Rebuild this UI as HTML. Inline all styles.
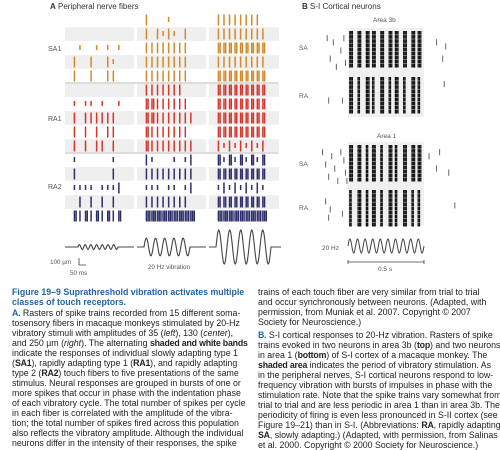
<!DOCTYPE html>
<html><head><meta charset="utf-8">
<style>
html,body{margin:0;padding:0;background:#fff;}
body{width:500px;height:449px;overflow:hidden;position:relative;font-family:"Liberation Sans",sans-serif;}
#fig{position:absolute;left:0;top:0;}
.cap{position:absolute;font-size:8.8px;line-height:10px;color:#222;white-space:nowrap;}
.cap div{height:10px;}
.ttl{color:#1f63a8;font-weight:bold;}
b{font-weight:bold;letter-spacing:-0.2px;}
</style></head><body>
<svg id="fig" width="500" height="285" xmlns="http://www.w3.org/2000/svg" font-family="Liberation Sans, sans-serif">
<text x="50" y="9" font-size="8" fill="#333"><tspan font-weight="bold">A</tspan>  Peripheral nerve fibers</text>
<text x="302" y="9" font-size="8" fill="#333"><tspan font-weight="bold">B</tspan>  S-I Cortical neurons</text>
<g id="gA"></g>
<g id="gB"></g>
</svg>

<div class="cap" style="left:12px;top:287px;">
<div class="ttl">Figure 19–9  Suprathreshold vibration activates multiple</div>
<div class="ttl">classes of touch receptors.</div>
<div style="height:1px"></div>
<div><b style="color:#1f63a8">A.</b> Rasters of spike trains recorded from 15 different soma-</div>
<div>tosensory fibers in macaque monkeys stimulated by 20-Hz</div>
<div>vibratory stimuli with amplitudes of 35 (<i>left</i>), 130 (<i>center</i>),</div>
<div>and 250 µm (<i>right</i>). The alternating <b>shaded and white bands</b></div>
<div>indicate the responses of individual slowly adapting type 1</div>
<div>(<b>SA1</b>), rapidly adapting type 1 (<b>RA1</b>), and rapidly adapting</div>
<div>type 2 (<b>RA2</b>) touch fibers to five presentations of the same</div>
<div>stimulus. Neural responses are grouped in bursts of one or</div>
<div>more spikes that occur in phase with the indentation phase</div>
<div>of each vibratory cycle. The total number of spikes per cycle</div>
<div>in each fiber is correlated with the amplitude of the vibra-</div>
<div>tion; the total number of spikes fired across this population</div>
<div>also reflects the vibratory amplitude. Although the individual</div>
<div>neurons differ in the intensity of their responses, the spike</div>
</div>

<div class="cap" style="left:258px;top:287px;">
<div>trains of each touch fiber are very similar from trial to trial</div>
<div>and occur synchronously between neurons. (Adapted, with</div>
<div>permission, from Muniak et al. 2007. Copyright © 2007</div>
<div>Society for Neuroscience.)</div>
<div style="height:3px"></div>
<div><b style="color:#1f63a8">B.</b> S-I cortical responses to 20-Hz vibration. Rasters of spike</div>
<div>trains evoked in two neurons in area 3b (<b>top</b>) and two neurons</div>
<div>in area 1 (<b>bottom</b>) of S-I cortex of a macaque monkey. The</div>
<div><b>shaded area</b> indicates the period of vibratory stimulation. As</div>
<div>in the peripheral nerves, S-I cortical neurons respond to low-</div>
<div>frequency vibration with bursts of impulses in phase with the</div>
<div>stimulation rate. Note that the spike trains vary somewhat from</div>
<div>trial to trial and are less periodic in area 1 than in area 3b. The</div>
<div>periodicity of firing is even less pronounced in S-II cortex (see</div>
<div>Figure 19–21) than in S-I. (Abbreviations: <b>RA</b>, rapidly adapting;</div>
<div><b>SA</b>, slowly adapting.) (Adapted, with permission, from Salinas</div>
<div>et al. 2000. Copyright © 2000 Society for Neuroscience.)</div>
</div>

<script>
// ---------- Panel A data ----------
const amplitudes = [35, 130, 250];           // µm
const sineCycles = [7, 5, 5];
const fiberClasses = ["SA1", "RA1", "RA2"];
// spikes-per-cycle codes per fiber row (9 cycles), one array per amplitude
const rasterLeft = ["000000000","000000000","010010101","200200210","200200220",
  "000000000","101101001","202222220","202020220","202022020",
  "100000010","200000020","111101112","020202020","323232323"];
const rasterCenter = ["200010000","202121020","222222220","222222220","222222220",
  "222222200","332222220","332222222","322222220","322222222",
  "210001012","222222222","111011012","222222220","444444444"];
const rasterRight = ["222222220","222222222","333333333","222222222","333333333",
  "333333333","333333333","333333333","333333333","212121212",
  "313131313","333333333","121212121","333333333","444444444"];
const rasters = [rasterLeft, rasterCenter, rasterRight];

// ---------- Panel B data ----------
const neuronNames = ["3b-SA", "3b-RA", "1-SA", "1-RA"];
const burstCodes = ["3333333333", "3232323232", "3323232333", "2323232322"];
const spontTimes = [
  [-0.14,-0.12,-0.1,-0.08,-0.05,-0.03,-0.02,0.58,0.62,0.64],
  [-0.13,-0.04,0.63],
  [-0.17,-0.15,-0.13,-0.11,-0.09,-0.07,-0.05,-0.03,-0.02,-0.01,0.53,0.58,0.6,0.66],
  [-0.15,-0.13,-0.12,-0.04,0.7]
];
const spontTrials = [
  [1,6,2,8,4,1,7,2,6,3],
  [5,5,1],
  [1,4,7,2,5,8,1,3,6,8,2,5,1,6],
  [2,6,4,5,3]
];
const bSineCycles = 10;
const stimDur = 0.5; // s

const NS = "http://www.w3.org/2000/svg";
function mk(tag, attrs, parent){const e=document.createElementNS(NS,tag);for(const k in attrs)e.setAttribute(k,attrs[k]);parent.appendChild(e);return e;}

const gA = document.getElementById('gA');
const colX = [65, 137, 209], colW = 69;
const rowY = i => 13 + i*14;
const colors = ["#d4892a", "#d8352b", "#2f2f6c"];
const nCyc = 9;
const stimX0 = 7, stimX1 = 57;
const cycX = (c, p) => colX[p] + stimX0 + (c + 0.3) * (stimX1 - stimX0) / nCyc;

for (let p=0;p<3;p++){
  for (let i=0;i<15;i++){
    if (i%2===1){
      const r = mk('rect',{x:colX[p],y:rowY(i),width:p===2?70:colW,height:14,fill:"#efefef"},gA);
      
      
    }
  }
}
[83,153].forEach(y=>{
  const l = mk('rect',{x:65,y:y-1,width:213,height:2,fill:"#dcdcdc"},gA);
  
  
});
fiberClasses.forEach((n,k)=>{
  const t = mk('text',{x:48,y:[51,121,189][k],"font-size":7,fill:"#555"},gA);
  t.textContent = n;
  
  
});
for (let p=0;p<3;p++){
  rasters[p].forEach((code,i)=>{
    const col = colors[Math.floor(i/5)];
    for (let c=0;c<code.length;c++){
      const v = +code[c]; if(!v) continue;
      const x = cycX(c,p), y0 = rowY(i);
      let ticks = v===1?1:v-1;
      for (let k=0;k<ticks;k++){
        const h = v===1?5:11;
        const yy = v===1? y0+4 : y0+1.5;
        const r = mk('rect',{x:x+k*1.7,y:yy,width:1.5,height:h,fill:col},gA);
        
        
      }
    }
  });
}
const ampScale = 17/250;
for (let p=0;p<3;p++){
  const cy = 247, a = amplitudes[p]*ampScale;
  const s0 = colX[p]+ [13,7,7][p], s1 = colX[p]+[53,53,62][p];
  let d = `M${colX[p]},${cy} L${s0},${cy}`;
  for (let k=0;k<=120;k++){const t=k/120;d+=` L${(s0+t*(s1-s0)).toFixed(2)},${(cy - a*Math.sin(2*Math.PI*sineCycles[p]*t)).toFixed(2)}`;}
  d += ` L${colX[p]+(p===2?72:colW)},${cy}`;
  const path = mk('path',{d:d,fill:"none",stroke:"#444","stroke-width":1.1},gA);
  
  
}
const sb = mk('path',{d:"M79,258 L79,265 L86,265",fill:"none",stroke:"#444","stroke-width":0.8},gA);


[["100 µm",50,264],["50 ms",70,275],["20 Hz vibration",148,269]].forEach(([s,x,y])=>{
  const t = mk('text',{x:x,y:y,"font-size":6.3,fill:"#555"},gA);
  t.textContent=s;
  
  
});

const gB = document.getElementById('gB');
const bx = t => 348 + t*(76/stimDur);
[[28,117],[142,226]].forEach(([y0,y1])=>{
  const r = mk('rect',{x:bx(0),y:y0,width:bx(stimDur)-bx(0),height:y1-y0,fill:"#f0f0f0"},gB);
  
  
});
const neuronY = [31, 77, 145, 190];
const trials = 9, trialH = 4.1;
neuronNames.forEach((nm,n)=>{
  const code = burstCodes[n];
  for (let tr=0;tr<trials;tr++){
    for (let c=0;c<bSineCycles;c++){
      const v = +code[c];
      const base = bx((c+0.15)*stimDur/bSineCycles) + ((tr*3+c)%3)*0.7;
      for (let k=0;k<v;k++){
        const r = mk('rect',{x:base+k*1.3,y:neuronY[n]+tr*trialH,width:1.3,height:trialH-0.4,fill:"#111"},gB);
        
        
      }
    }
  }
  spontTimes[n].forEach((t,j)=>{
    const r = mk('rect',{x:bx(t),y:neuronY[n]+spontTrials[n][j]*trialH,width:0.9,height:trialH*1.5,fill:"#555"},gB);
    
    
  });
});
[["Area 3b",373,22],["Area 1",377,138],["SA",299,50],["RA",299,98],["SA",299,166],["RA",299,210],["20 Hz",322,250],["0.5 s",378,271]].forEach(([s,x,y])=>{
  const t = mk('text',{x:x,y:y,"font-size":6.5,fill:"#555"},gB);
  t.textContent=s;
  
  
});
{
  const cy=246, a=7, s0=bx(0), s1=bx(stimDur);
  let d=`M${s0},${cy}`;
  for(let k=0;k<=200;k++){const t=k/200;d+=` L${(s0+t*(s1-s0)).toFixed(2)},${(cy-a*Math.sin(2*Math.PI*bSineCycles*t)).toFixed(2)}`;}
  const p = mk('path',{d:d,fill:"none",stroke:"#444","stroke-width":1},gB);
  
  
  const sb2 = mk('path',{d:`M${s0},260 L${s0},264 M${s0},262 L${s1},262 M${s1},260 L${s1},264`,fill:"none",stroke:"#444","stroke-width":0.8},gB);
  
  
}
</script>
</body></html>
